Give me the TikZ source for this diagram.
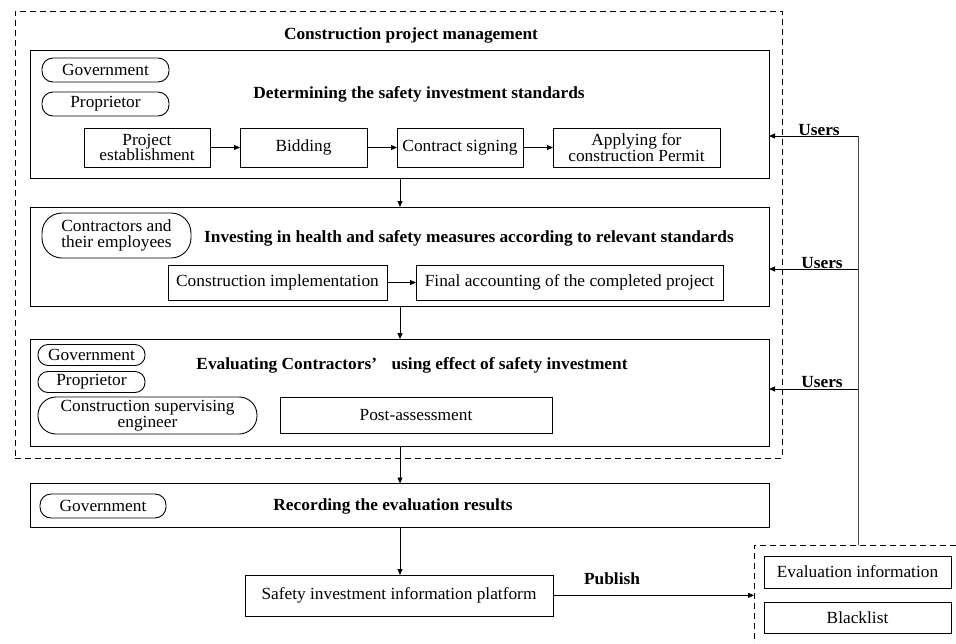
\documentclass[tikz,border=0pt]{standalone}
\usepackage{fontspec}
\setmainfont[FakeStretch=1.02]{Liberation Serif}
\usetikzlibrary{arrows.meta}
\begin{document}
\begin{tikzpicture}[x=1pt,y=-1pt,
  every node/.style={inner sep=0pt, outer sep=0pt},
  box/.style={draw, line width=0.9pt, rectangle, align=center},
  frame/.style={draw, line width=0.9pt, dash pattern=on 6pt off 4pt, rectangle},
  pill/.style={draw, line width=0.9pt, rectangle, rounded corners=11pt, align=center},
  txt/.style={font=\fontsize{17}{15.5}\selectfont},
  ttl/.style={font=\fontsize{17}{15.5}\selectfont\bfseries},
  arr/.style={-{Triangle[length=6pt,width=5pt]}, line width=0.85pt},
  ln/.style={line width=0.85pt, draw=black!70}
]
\useasboundingbox (0,0) rectangle (956,643);

% outer frame
\node[frame, minimum width=767pt, minimum height=447pt] (outer) at (398.5,234.5) {};
\node[ttl] (t0) at (411,35) {Construction project management};

% box 1
\node[box, minimum width=739pt, minimum height=128pt] (b1) at (399.5,114) {};
\node[pill, minimum width=127pt, minimum height=24pt, txt] (g1) at (105.5,70) {Government};
\node[pill, minimum width=127pt, minimum height=24pt, txt] (p1) at (105.5,104) {Proprietor};
\node[ttl] (t1) at (419,94) {Determining the safety investment standards};
\node[box, minimum width=126pt, minimum height=39pt, txt] (s1) at (147,147.5) {Project\\establishment};
\node[box, minimum width=127pt, minimum height=39pt, txt] (s2) at (303.5,147.5) {Bidding};
\node[box, minimum width=126pt, minimum height=39pt, txt] (s3) at (460,147.5) {Contract signing};
\node[box, minimum width=167pt, minimum height=39pt, txt] (s4) at (636.5,147.5) {Applying for\\construction Permit};
\draw[arr] (s1) -- (s2);
\draw[arr] (s2) -- (s3);
\draw[arr] (s3) -- (s4);

% box 2
\node[box, minimum width=739pt, minimum height=99pt] (b2) at (399.5,256.5) {};
\node[pill, minimum width=149pt, minimum height=45pt, rounded corners=20pt, txt] (c2) at (116.5,235.5) {Contractors and\\their employees};
\node[ttl] (t2) at (469,238) {Investing in health and safety measures according to relevant standards};
\node[box, minimum width=219pt, minimum height=35pt, txt] (i1) at (277.5,282.5) {Construction implementation};
\node[box, minimum width=307pt, minimum height=35pt, txt] (i2) at (569.5,282.5) {Final accounting of the completed project};
\draw[arr] (i1) -- (i2);

% box 3
\node[box, minimum width=739pt, minimum height=107pt] (b3) at (399.5,392.5) {};
\node[pill, minimum width=107pt, minimum height=21pt, rounded corners=10pt, txt] (g3) at (91.5,355) {Government};
\node[pill, minimum width=107pt, minimum height=21pt, rounded corners=10pt, txt] (p3) at (91.5,382) {Proprietor};
\node[pill, minimum width=219pt, minimum height=37pt, rounded corners=18pt, txt] (e3) at (147.5,415.5) {Construction supervising\\engineer};
\node[ttl] (t3) at (412,365) {Evaluating Contractors\rlap{\textquoteright}\hspace{16pt} using effect of safety investment};
\node[box, minimum width=272pt, minimum height=36pt, txt] (pa) at (416,415) {Post-assessment};

% box 4
\node[box, minimum width=739pt, minimum height=44pt] (b4) at (399.5,505.5) {};
\node[pill, minimum width=126pt, minimum height=24pt, txt] (g4) at (103,506) {Government};
\node[ttl] (t4) at (393,506) {Recording the evaluation results};

% platform
\node[box, minimum width=308pt, minimum height=41pt, txt] (pf) at (399,595.5) {Safety investment information platform};

% publish frame
\coordinate (f1) at (956,545);
\coordinate (f2) at (754,545);
\coordinate (f3) at (754,643);
\draw[line width=0.9pt, dash pattern=on 6pt off 4pt] (f1) -- (f2) -- (f3);
\node[box, minimum width=187pt, minimum height=32pt, txt] (ev) at (857.5,572) {Evaluation information};
\node[box, minimum width=187pt, minimum height=31pt, txt] (bl) at (857.5,617.5) {Blacklist};

% vertical flow arrows
\draw[arr] (b1.south -| 400,0) -- (b2.north -| 400,0);
\draw[arr] (b2.south -| 400,0) -- (b3.north -| 400,0);
\draw[arr] (b3.south -| 400,0) -- (b4.north -| 400,0);
\draw[arr] (b4.south -| 400,0) -- (pf.north -| 400,0);

% publish arrow
\coordinate (pub) at (754,595.3);
\draw[arr] (pf.east |- pub) -- (pub);
\node[ttl] (tp) at (612,579) {Publish};

% users feedback
\coordinate (u0) at (858,545);
\coordinate (u1) at (858,136);
\coordinate (u2) at (858,269);
\coordinate (u3) at (858,389);
\draw[ln] (u0) -- (u1);
\draw[arr] (u1) -- (b1.east |- u1);
\draw[arr] (u2) -- (b2.east |- u2);
\draw[arr] (u3) -- (b3.east |- u3);
\node[ttl] (us1) at (819,130) {Users};
\node[ttl] (us2) at (822,263) {Users};
\node[ttl] (us3) at (822,382) {Users};
\end{tikzpicture}
\end{document}
